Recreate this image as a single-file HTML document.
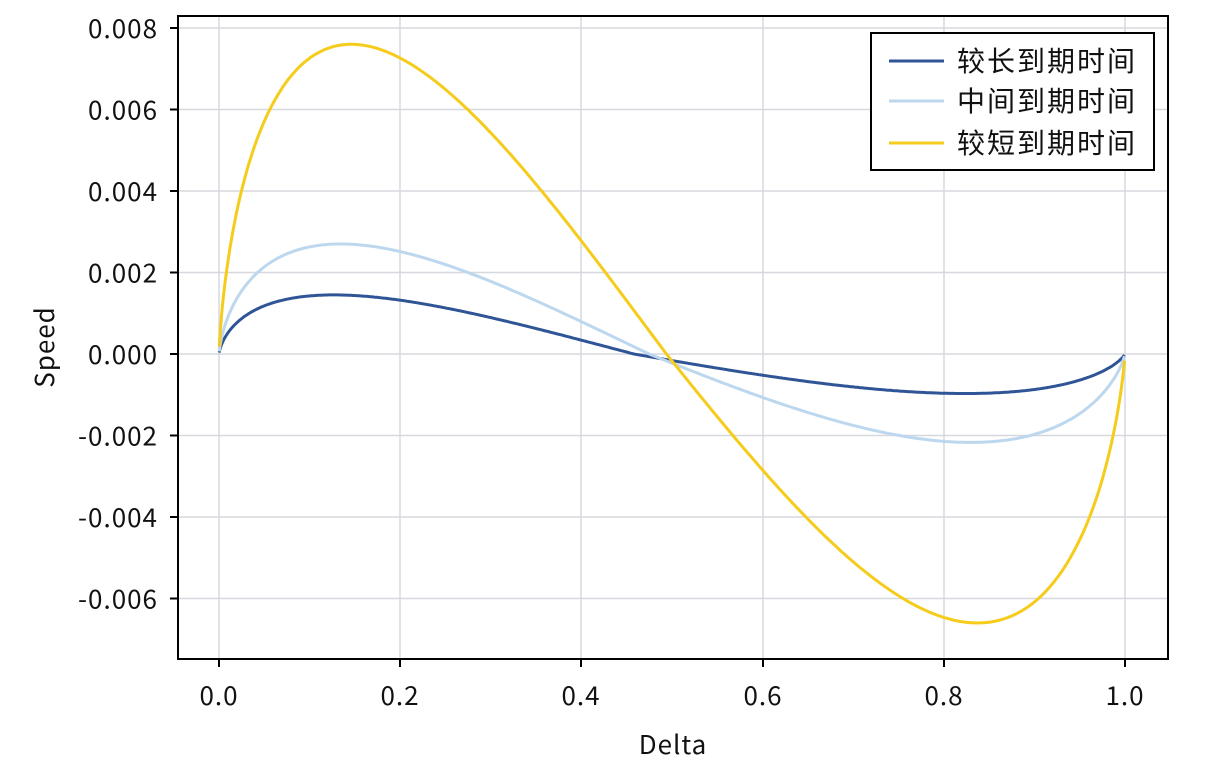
<!DOCTYPE html>
<html><head><meta charset="utf-8">
<style>
body{margin:0;background:#fff;}
svg text{font-family:"Noto Sans CJK SC","Liberation Sans",sans-serif;fill:#111;}
</style></head><body>
<svg id="s" width="1209" height="774" xmlns="http://www.w3.org/2000/svg">
<g stroke="#d6d8de" stroke-width="1.5">
<line x1="219" y1="16" x2="219" y2="659"/><line x1="400" y1="16" x2="400" y2="659"/>
<line x1="581" y1="16" x2="581" y2="659"/><line x1="763" y1="16" x2="763" y2="659"/>
<line x1="944" y1="16" x2="944" y2="659"/><line x1="1125" y1="16" x2="1125" y2="659"/>
<line x1="178" y1="28" x2="1168" y2="28"/><line x1="178" y1="109.5" x2="1168" y2="109.5"/>
<line x1="178" y1="191" x2="1168" y2="191"/><line x1="178" y1="272.5" x2="1168" y2="272.5"/>
<line x1="178" y1="354" x2="1168" y2="354"/><line x1="178" y1="435.5" x2="1168" y2="435.5"/>
<line x1="178" y1="517" x2="1168" y2="517"/><line x1="178" y1="598.5" x2="1168" y2="598.5"/>
</g>
<g id="curves" fill="none" stroke-width="3"></g>
<rect x="178" y="16" width="990" height="643" fill="none" stroke="#000" stroke-width="2"/>
<g stroke="#000" stroke-width="2">
<line x1="170" y1="28" x2="178" y2="28"/><line x1="170" y1="109.5" x2="178" y2="109.5"/>
<line x1="170" y1="191" x2="178" y2="191"/><line x1="170" y1="272.5" x2="178" y2="272.5"/>
<line x1="170" y1="354" x2="178" y2="354"/><line x1="170" y1="435.5" x2="178" y2="435.5"/>
<line x1="170" y1="517" x2="178" y2="517"/><line x1="170" y1="598.5" x2="178" y2="598.5"/>
<line x1="219" y1="659" x2="219" y2="667"/><line x1="400" y1="659" x2="400" y2="667"/>
<line x1="581" y1="659" x2="581" y2="667"/><line x1="763" y1="659" x2="763" y2="667"/>
<line x1="944" y1="659" x2="944" y2="667"/><line x1="1125" y1="659" x2="1125" y2="667"/>
</g>
<g font-size="26" text-anchor="end" letter-spacing="1">
<text x="158" y="38">0.008</text><text x="158" y="119.5">0.006</text>
<text x="158" y="201">0.004</text><text x="158" y="282.5">0.002</text>
<text x="158" y="364">0.000</text><text x="158" y="445.5">-0.002</text>
<text x="158" y="527">-0.004</text><text x="158" y="608.5">-0.006</text>
</g>
<g font-size="26" text-anchor="middle" letter-spacing="1">
<text x="219" y="705">0.0</text><text x="400" y="705">0.2</text><text x="581" y="705">0.4</text>
<text x="763" y="705">0.6</text><text x="944" y="705">0.8</text><text x="1125" y="705">1.0</text>
<text x="673" y="754">Delta</text>
<text transform="translate(54,347) rotate(-90)">Speed</text>
</g>
<rect x="871" y="33" width="283" height="137" fill="#fff" stroke="#000" stroke-width="2"/>
<line x1="889" y1="61" x2="944" y2="61" stroke="#2f5597" stroke-width="3"/>
<line x1="889" y1="101" x2="944" y2="101" stroke="#bdd7ee" stroke-width="3"/>
<line x1="889" y1="143" x2="944" y2="143" stroke="#f5cc1b" stroke-width="3"/>
<g font-size="28" letter-spacing="2">
<text x="957" y="71">较长到期时间</text>
<text x="957" y="111">中间到期时间</text>
<text x="957" y="153">较短到期时间</text>
</g>
</svg>
<script>
function ninv(p){var a=[-39.69683028665376,220.9460984245205,-275.9285104469687,138.357751867269,-30.66479806614716,2.506628277459239],
b=[-54.47609879822406,161.5858368580409,-155.6989798598866,66.80131188771972,-13.28068155288572],
c=[-0.007784894002430293,-0.3223964580411365,-2.400758277161838,-2.549732539343734,4.374664141464968,2.938163982698783],
d=[0.007784695709041462,0.3224671290700398,2.445134137142996,3.754408661907416],pl=0.02425,q,r;
if(p<pl){q=Math.sqrt(-2*Math.log(p));return(((((c[0]*q+c[1])*q+c[2])*q+c[3])*q+c[4])*q+c[5])/((((d[0]*q+d[1])*q+d[2])*q+d[3])*q+1);}
if(p>1-pl){q=Math.sqrt(-2*Math.log(1-p));return-(((((c[0]*q+c[1])*q+c[2])*q+c[3])*q+c[4])*q+c[5])/((((d[0]*q+d[1])*q+d[2])*q+d[3])*q+1);}
q=p-0.5;r=q*q;return(((((a[0]*r+a[1])*r+a[2])*r+a[3])*r+a[4])*r+a[5])*q/(((((b[0]*r+b[1])*r+b[2])*r+b[3])*r+b[4])*r+1);}
function curve(a,w,pk,mn,col){
 var pts=[],maxv=0,minv=0;
 for(var i=0;i<=600;i++){var dl=0.0005+i*(0.999/600);var d=ninv(dl);
  var v=-Math.exp(-0.5*d*d)*(d+a);pts.push([Math.pow(dl,w),v]);if(v>maxv)maxv=v;if(v<minv)minv=v;}
 var s='';pts.forEach(function(p,i){var v=p[1]>0?p[1]/maxv*pk:p[1]/minv*mn;
  var x=219+p[0]*906,y=354-v*40750;s+=(i?'L':'M')+x.toFixed(1)+' '+y.toFixed(1);});
 var e=document.createElementNS('http://www.w3.org/2000/svg','path');
 e.setAttribute('d',s);e.setAttribute('stroke',col);document.getElementById('curves').appendChild(e);}
curve(0.005,1.12,0.00145,-0.00097,'#2f5597');
curve(-0.02,1.1,0.0027,-0.00217,'#bdd7ee');
curve(-0.035,1.06,0.0076,-0.0066,'#f5cc1b');
</script>
</body></html>
